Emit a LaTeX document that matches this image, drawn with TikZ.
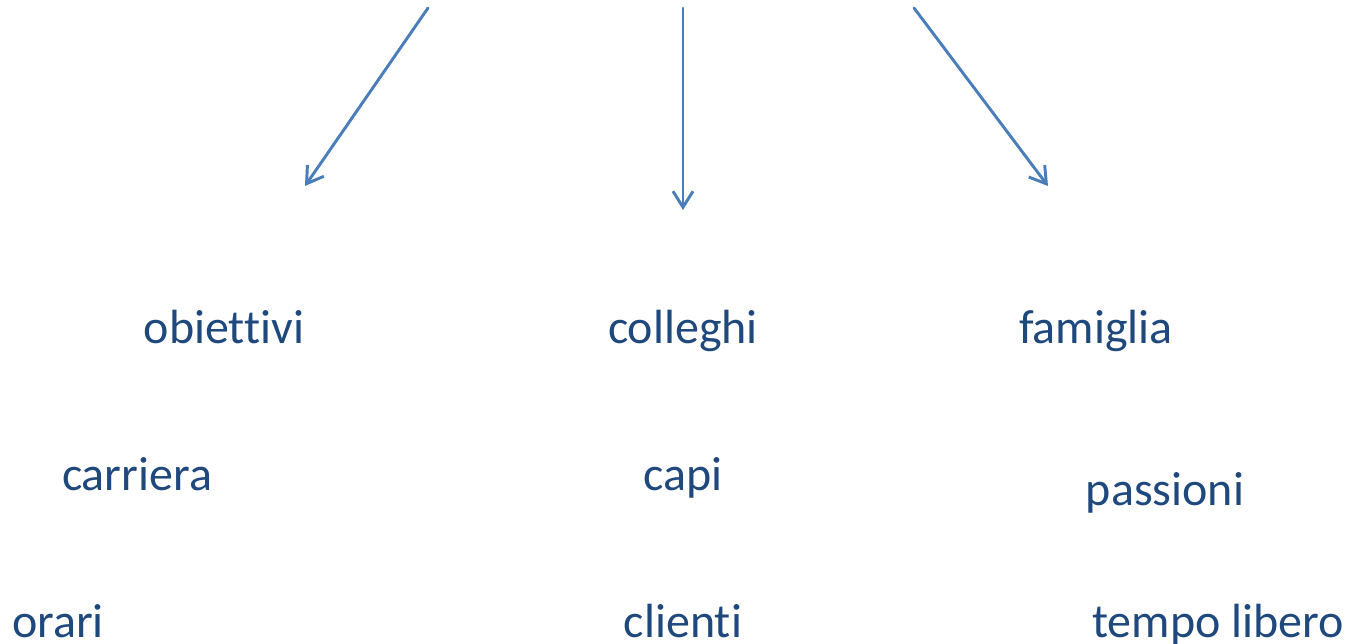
\documentclass[tikz,border=0pt]{standalone}
\usepackage{fontspec}
\setmainfont{Carlito}[RawFeature={-liga}]
\usetikzlibrary{arrows.meta}
\definecolor{labelblue}{HTML}{1F497D}
\definecolor{arrowblue}{HTML}{4A7EBB}
\begin{document}
\begin{tikzpicture}[x=0.75pt,y=-0.75pt,
  word/.style={anchor=base,text=labelblue,font=\fontsize{36}{43}\selectfont,inner sep=0pt},
  link/.style={draw=arrowblue,line width=2.2pt,line cap=round,
    -{Straight Barb[length=12pt,width=15pt,line width=2.2pt]}}]
\useasboundingbox (0,0) rectangle (1350,643);
% arrow ends
\coordinate (l0) at (428,8);   \coordinate (l1) at (305,186);
\coordinate (m0) at (683,8);   \coordinate (m1) at (683,210);
\coordinate (r0) at (914,8);   \coordinate (r1) at (1048,186);
\draw[link] (l0) -- (l1);
\draw[link] (m0) -- (m1);
\draw[link] (r0) -- (r1);
% first row
\node[word] (obiettivi) at (224,343) {obiettivi};
\node[word] (colleghi) at (683,343) {colleghi};
\node[word] (famiglia) at (1096,343) {famiglia};
% second row
\node[word] (carriera) at (137,490) {carriera};
\node[word] (capi) at (683,490) {capi};
\node[word] (passioni) at (1165,505) {passioni};
% third row
\node[word] (orari) at (58,637) {orari};
\node[word] (clienti) at (683,637) {clienti};
\node[word] (tempo) at (1218,637) {tempo libero};
\end{tikzpicture}
\end{document}
